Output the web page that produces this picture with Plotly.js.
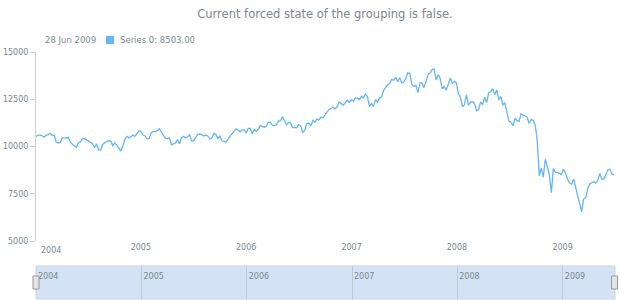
<!DOCTYPE html>
<html>
<head>
<meta charset="utf-8">
<script src="https://cdn.plot.ly/plotly-3.0.1.min.js"></script>
<style>
  html, body { margin: 0; padding: 0; background: #ffffff; }
  #chart { width: 620px; height: 300px; }
</style>
</head>
<body>
<div id="chart"></div>
<script>
// ---- data (weekly points, first point dated 2004-01-04) ----
var firstDate = '2004-01-04';
var values2004 = [10530, 10600, 10600, 10570, 10490, 10590, 10630, 10700, 10585, 10595,
  10240, 10186, 10212, 10470, 10442, 10452, 10472, 10226, 10118, 10012,
  9967, 10188, 10243, 10410, 10417, 10371, 10283, 10213, 10140, 9962,
  10139, 9816, 9826, 10110, 10195, 10260, 10314, 10284, 10047, 10192,
  10055, 9933, 9758, 10027, 10387, 10539, 10456, 10522, 10592, 10543,
  10661, 10828];
var values2005 = [10783, 10603, 10558, 10393, 10427, 10716, 10796, 10785, 10841, 10941,
  10774, 10629, 10442, 10404, 10461, 10087, 10157, 10192, 10345, 10140,
  10471, 10542, 10460, 10513, 10623, 10297, 10303, 10449, 10640, 10651,
  10641, 10558, 10600, 10559, 10397, 10447, 10679, 10641, 10419, 10569,
  10292, 10287, 10215, 10402, 10530, 10686, 10766, 10931, 10877, 10778,
  10875, 10883];
var values2006 = [10718, 10959, 10960, 10667, 10907, 10793, 10919, 11115, 11061, 11022,
  11076, 11280, 11280, 11109, 11121, 11137, 11347, 11367, 11577, 11381,
  11144, 11279, 11248, 11000, 11015, 10989, 11150, 11091, 10739, 10868,
  11219, 11240, 11088, 11381, 11284, 11464, 11392, 11560, 11508, 11679,
  11850, 11960, 12002, 12090, 11986, 12108, 12342, 12280, 12194, 12307,
  12445, 12343, 12463];
var values2007 = [12398, 12556, 12566, 12487, 12653, 12581, 12768, 12647, 12114, 12277,
  12111, 12481, 12354, 12561, 12612, 12962, 13121, 13265, 13327, 13556,
  13507, 13668, 13424, 13639, 13361, 13409, 13612, 13907, 13851, 13265,
  13182, 13240, 12850, 13379, 13358, 13113, 13442, 13821, 13896, 14066,
  14093, 13522, 13807, 13596, 13043, 13177, 12981, 13372, 13626, 13340,
  13451, 13366];
var values2008 = [12800, 12606, 12099, 12207, 12743, 12182, 12348, 12381, 12266, 11893,
  11951, 12361, 12216, 12609, 12325, 12849, 12891, 13058, 12745, 12986,
  12480, 12638, 12209, 12307, 11843, 11347, 11288, 11100, 11496, 11370,
  11326, 11734, 11659, 11628, 11543, 11220, 11422, 11388, 11143, 10325,
  8451, 8852, 8378, 9325, 8943, 8497, 7560, 8829, 8635, 8629,
  8579, 8515];
var values2009 = [8800, 8599, 8281, 8077, 8001, 8280, 7850, 7366, 7063, 6547,
  7224, 7279, 7776, 8018, 8083, 8131, 8076, 8212, 8575, 8268,
  8277, 8500, 8764, 8799, 8539, 8503];
var yearLabels = ['2004', '2005', '2006', '2007', '2008', '2009'];
var yTicks = [5000, 7500, 10000, 12500, 15000];
var seriesName = 'Series 0';
var titleText = 'Current forced state of the grouping is false.';

// ---- build series ----
var values = [].concat(values2004, values2005, values2006, values2007, values2008, values2009);
var dates = [];
var d0 = new Date(firstDate + 'T00:00:00Z');
for (var i = 0; i < values.length; i++) {
  var d = new Date(d0.getTime() + i * 7 * 86400000);
  dates.push(d.toISOString().slice(0, 10));
}
var lastDate = new Date(dates[dates.length - 1] + 'T00:00:00Z');
var months = ['Jan','Feb','Mar','Apr','May','Jun','Jul','Aug','Sep','Oct','Nov','Dec'];
var lastDateText = lastDate.getUTCDate() + ' ' + months[lastDate.getUTCMonth()] + ' ' + lastDate.getUTCFullYear();
var lastValueText = seriesName + ': ' + values[values.length - 1].toFixed(2);

var yearDates = yearLabels.map(function (y) { return y + '-01-01'; });

var W = 620, H = 300;
function px(x) { return x / W; }
function py(y) { return (H - y) / H; }

var grey = '#7c868e';
var font = 'DejaVu Sans, Verdana, sans-serif';

var trace = {
  type: 'scatter', mode: 'lines',
  x: dates, y: values,
  line: { color: '#64b5f6', width: 1.3 },
  hoverinfo: 'skip', showlegend: false
};
// the scroller shares the same series (kept invisible, it only carries the scroller axis)
var scrollerTrace = {
  type: 'scatter', mode: 'lines',
  x: dates, y: values, xaxis: 'x2', yaxis: 'y2',
  line: { color: 'rgba(0,0,0,0)', width: 0 }, opacity: 0,
  hoverinfo: 'skip', showlegend: false
};

var layout = {
  width: W, height: H,
  margin: { l: 0, r: 0, t: 0, b: 0 },
  paper_bgcolor: '#ffffff',
  plot_bgcolor: 'rgba(0,0,0,0)',
  showlegend: false,
  font: { family: font, color: grey, size: 8 },
  title: {
    text: titleText,
    x: px(325), xanchor: 'center', xref: 'paper',
    y: py(14), yanchor: 'middle', yref: 'container',
    font: { family: font, size: 11.5, color: grey }
  },
  xaxis: {
    type: 'date',
    domain: [px(36), px(614)],
    range: [dates[0], dates[dates.length - 1]],
    showgrid: false, zeroline: false, showline: false,
    ticks: '',
    tickmode: 'array',
    tickvals: yearDates.slice(1),
    ticktext: yearLabels.slice(1),
    tickfont: { family: font, size: 8, color: grey },
    anchor: 'y'
  },
  yaxis: {
    domain: [py(241), py(52)],
    range: [5000, 15000],
    tickmode: 'array', tickvals: yTicks,
    ticktext: yTicks.map(String),
    showgrid: false, zeroline: false,
    showline: true, linecolor: '#cecece', linewidth: 1,
    ticks: 'outside', ticklen: 5, tickcolor: '#cecece', tickwidth: 1,
    tickfont: { family: font, size: 8, color: grey },
    anchor: 'x'
  },
  xaxis2: {
    type: 'date',
    domain: [px(36), px(615)],
    range: ['2004-01-01', '2009-07-01'],
    anchor: 'y2', side: 'top',
    showgrid: true, gridcolor: '#bfc9d3', gridwidth: 1,
    zeroline: false, showline: false, ticks: '',
    tickmode: 'array', tickvals: yearDates, ticktext: yearLabels,
    ticklabelposition: 'inside right',
    ticklabelstandoff: 1, ticklabelshift: 2,
    tickfont: { family: font, size: 8, color: grey }
  },
  yaxis2: {
    domain: [py(299), py(266)],
    range: [0, 1],
    anchor: 'x2',
    visible: false, showgrid: false, zeroline: false, fixedrange: true
  },
  annotations: [
    { xref: 'x', yref: 'paper', x: dates[0], y: py(250), xanchor: 'left', yanchor: 'middle',
      xshift: 3, text: yearLabels[0], showarrow: false, font: { family: font, size: 8, color: grey } },
    { xref: 'paper', yref: 'paper', x: px(43), y: py(40), xanchor: 'left', yanchor: 'middle',
      text: lastDateText, showarrow: false, font: { family: font, size: 8.5, color: grey } },
    { xref: 'paper', yref: 'paper', x: px(118), y: py(40), xanchor: 'left', yanchor: 'middle',
      text: lastValueText, showarrow: false, font: { family: font, size: 8.5, color: grey } }
  ],
  shapes: [
    { type: 'rect', xref: 'paper', yref: 'paper', layer: 'below',
      x0: px(36), x1: px(615), y0: py(299), y1: py(266),
      fillcolor: '#d3e3f5', line: { color: '#c9d6e3', width: 1 } },
    { type: 'rect', xref: 'paper', yref: 'paper',
      x0: px(106), x1: px(114), y0: py(44), y1: py(36),
      fillcolor: '#64b5f6', line: { width: 0 } },
    { type: 'rect', xref: 'paper', yref: 'paper',
      x0: px(33), x1: px(39), y0: py(289), y1: py(276),
      fillcolor: '#e4e4e4', line: { color: '#999999', width: 1 } },
    { type: 'rect', xref: 'paper', yref: 'paper',
      x0: px(611.5), x1: px(617.5), y0: py(289), y1: py(276),
      fillcolor: '#e4e4e4', line: { color: '#999999', width: 1 } }
  ]
};

Plotly.newPlot('chart', [trace, scrollerTrace], layout, { staticPlot: true, displayModeBar: false });
</script>
</body>
</html>
